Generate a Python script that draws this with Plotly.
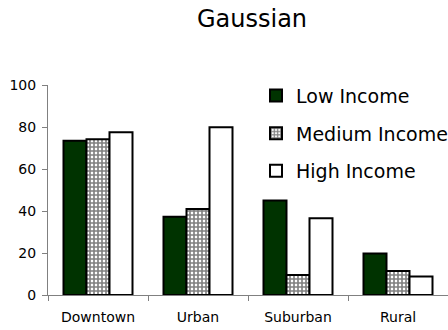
import plotly.graph_objects as go

# Income-group values per area type
categories = ["Downtown", "Urban", "Suburban", "Rural"]
low_income = [73.5, 37.3, 45.0, 19.8]
medium_income = [74.2, 41.0, 9.5, 11.4]
high_income = [77.5, 79.9, 36.5, 8.8]
y_ticks = [0, 20, 40, 60, 80, 100]

FONT = "DejaVu Sans"
AXIS_GRAY = "#808080"
OUTLINE = dict(color="black", width=2)

fig = go.Figure()
fig.add_trace(go.Bar(
    x=categories, y=low_income, name="Low Income", legendgroup="low",
    marker=dict(color="#003300", line=OUTLINE),
))
fig.add_trace(go.Bar(
    x=categories, y=medium_income, name="Medium Income", legendgroup="medium",
    marker=dict(color="white", line=OUTLINE,
                pattern=dict(shape="+", fgcolor="black", bgcolor="white",
                             size=4, solidity=0.65, fillmode="overlay")),
))
fig.add_trace(go.Bar(
    x=categories, y=high_income, name="High Income", legendgroup="high",
    marker=dict(color="white", line=OUTLINE),
))

fig.update_layout(
    width=448, height=330,
    margin=dict(l=48, r=0, t=85, b=35, autoexpand=False),
    paper_bgcolor="white", plot_bgcolor="white",
    barmode="group", bargap=0.31, bargroupgap=0,
    font=dict(family=FONT, color="black", size=14),
    title=dict(text="Gaussian", x=0.51, xref="paper", xanchor="center",
               y=1 - 19 / 330, yref="container", yanchor="middle",
               font=dict(family=FONT, size=24, color="black")),
    legend=dict(x=0.52, xanchor="left", y=1.04, yanchor="top",
                font=dict(family=FONT, size=19, color="black"),
                tracegroupgap=10, bgcolor="rgba(0,0,0,0)"),
    showlegend=True,
)
fig.update_xaxes(
    showline=True, linecolor=AXIS_GRAY, linewidth=1,
    ticks="outside", tickson="boundaries", ticklen=5, tickcolor=AXIS_GRAY,
    showgrid=False, tickfont=dict(size=14, family=FONT), ticklabelstandoff=9,
)
fig.update_yaxes(
    range=[0, 100], tickvals=y_ticks, showline=True, linecolor=AXIS_GRAY,
    linewidth=1, ticks="outside", ticklen=5, tickcolor=AXIS_GRAY,
    showgrid=False, zeroline=False, tickfont=dict(size=14, family=FONT),
    ticklabelstandoff=3,
)

fig.write_html("out.html")
